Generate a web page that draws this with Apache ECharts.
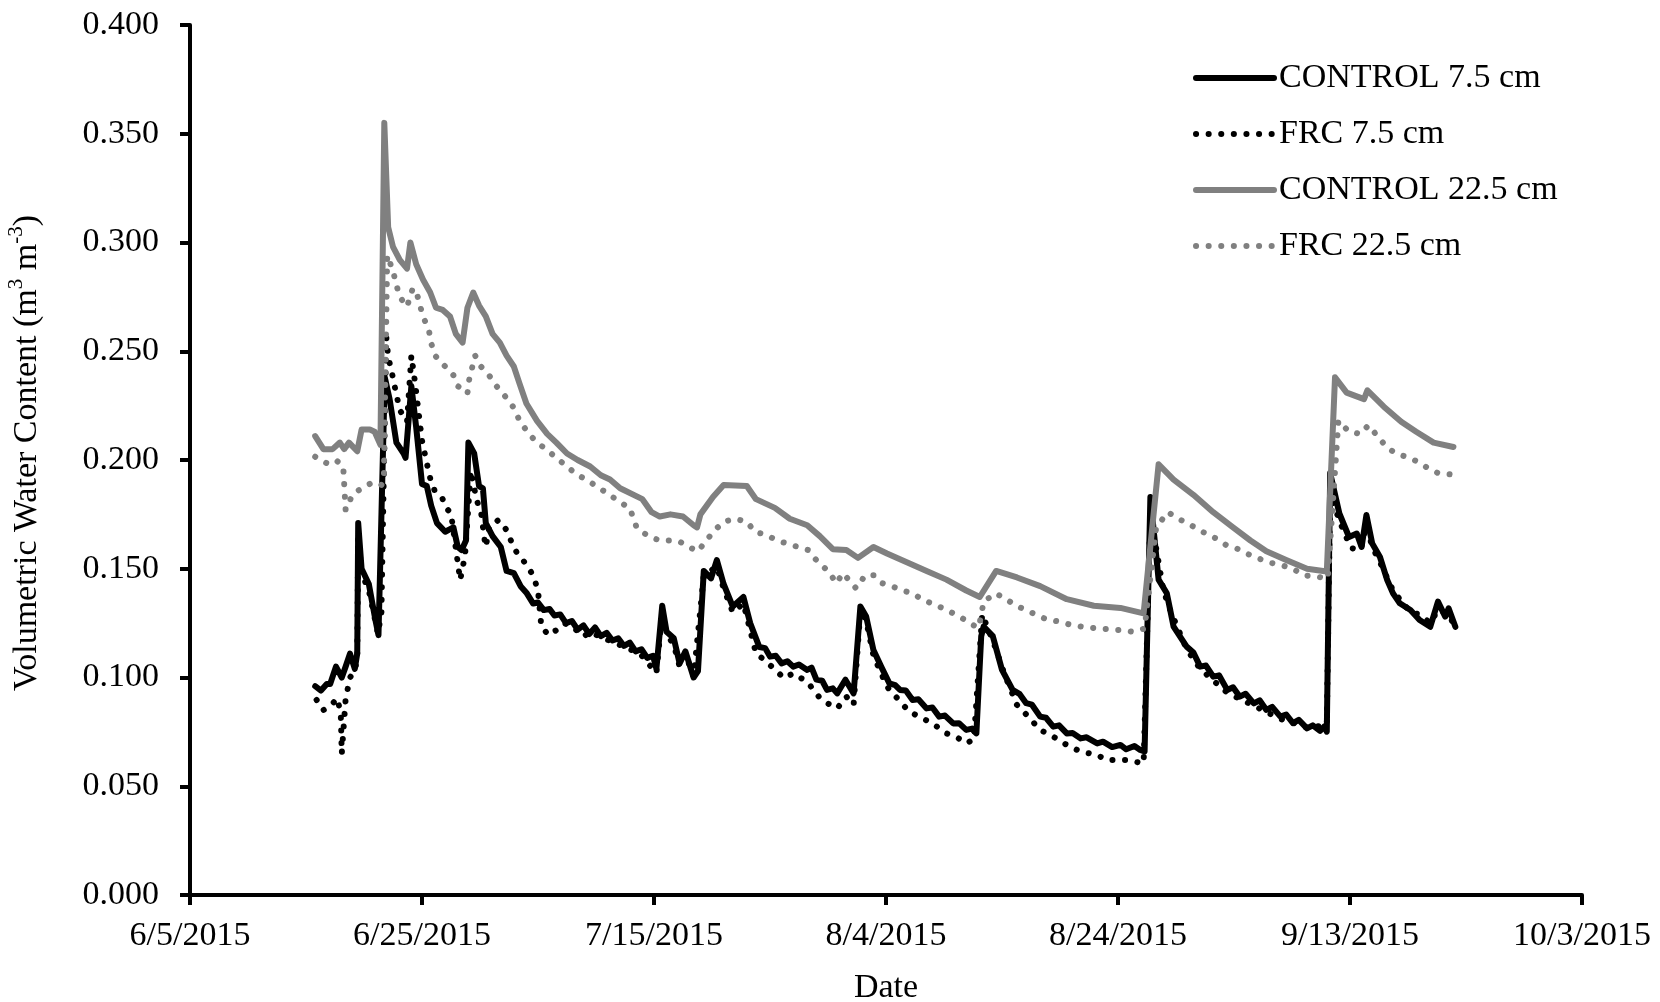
<!DOCTYPE html>
<html>
<head>
<meta charset="utf-8">
<title>Volumetric Water Content</title>
<script src="https://cdn.jsdelivr.net/npm/echarts@6/dist/echarts.min.js"></script>
<style>
  html, body { margin: 0; padding: 0; background: #fff; }
  #chart { width: 1660px; height: 1002px; }
</style>
</head>
<body>
<div id="chart"></div>
<script>
// Soil volumetric water content readings, 2015 season: ['M/D HH', m3 m-3]
const control75 = [
  ['6/15 19',0.096],['6/16 07',0.094],['6/16 19',0.097],['6/17 02',0.097],['6/17 14',0.105],['6/18 02',0.100],
  ['6/18 10',0.105],['6/18 19',0.111],['6/19 05',0.104],['6/19 10',0.111],['6/19 12',0.171],['6/19 19',0.150],
  ['6/20 10',0.143],['6/21 00',0.126],['6/21 06',0.1195],['6/21 10',0.120],['6/21 19',0.238],['6/22 05',0.228],
  ['6/22 19',0.208],['6/23 10',0.203],['6/23 14',0.201],['6/24 02',0.234],['6/24 12',0.215],['6/25 00',0.189],
  ['6/25 10',0.188],['6/25 19',0.179],['6/26 07',0.171],['6/27 00',0.167],['6/27 17',0.169],['6/28 02',0.160],
  ['6/28 10',0.1586],['6/28 19',0.163],['6/29 00',0.208],['6/29 12',0.203],['6/29 22',0.188],['6/30 06',0.187],
  ['6/30 12',0.171],['7/1 02',0.165],['7/1 19',0.160],['7/2 07',0.149],['7/2 22',0.148],['7/3 12',0.142],
  ['7/4 00',0.139],['7/4 14',0.134],['7/5 00',0.1345],['7/5 12',0.131],['7/6 00',0.1315],['7/6 10',0.1285],
  ['7/6 22',0.129],['7/7 10',0.125],['7/7 22',0.126],['7/8 10',0.122],['7/8 22',0.124],['7/9 10',0.120],
  ['7/9 22',0.123],['7/10 10',0.119],['7/10 22',0.1205],['7/11 10',0.117],['7/11 22',0.118],['7/12 10',0.1145],
  ['7/12 22',0.116],['7/13 10',0.112],['7/13 22',0.113],['7/14 10',0.109],['7/14 22',0.110],['7/15 05',0.104],
  ['7/15 17',0.133],['7/16 02',0.121],['7/16 17',0.118],['7/17 05',0.1065],['7/17 17',0.112],['7/18 10',0.100],
  ['7/18 19',0.103],['7/19 07',0.149],['7/19 22',0.1456],['7/20 10',0.154],['7/21 00',0.143],['7/21 19',0.1326],
  ['7/22 17',0.137],['7/23 07',0.125],['7/24 02',0.114],['7/24 14',0.1135],['7/25 00',0.1096],['7/25 12',0.110],
  ['7/26 00',0.1065],['7/26 12',0.1075],['7/27 00',0.105],['7/27 12',0.106],['7/28 05',0.1035],['7/28 14',0.1045],
  ['7/29 00',0.099],['7/29 12',0.0985],['7/29 22',0.0943],['7/30 10',0.095],['7/30 19',0.0927],['7/31 12',0.099],
  ['8/1 05',0.0927],['8/1 19',0.1326],['8/2 07',0.128],['8/2 22',0.1126],['8/3 14',0.105],['8/4 07',0.0973],
  ['8/4 19',0.0965],['8/5 05',0.0943],['8/5 17',0.094],['8/6 07',0.0897],['8/6 19',0.090],['8/7 12',0.0858],
  ['8/8 00',0.0862],['8/8 14',0.082],['8/9 02',0.0825],['8/9 19',0.0789],['8/10 07',0.079],['8/10 22',0.0759],
  ['8/11 10',0.0765],['8/11 19',0.0743],['8/12 05',0.119],['8/12 10',0.1234],['8/13 05',0.119],['8/14 00',0.1035],
  ['8/14 22',0.0943],['8/15 12',0.0925],['8/16 02',0.0882],['8/16 14',0.0875],['8/17 07',0.082],['8/17 19',0.0815],
  ['8/18 10',0.0774],['8/18 22',0.078],['8/19 14',0.0743],['8/20 02',0.0745],['8/20 19',0.072],['8/21 07',0.0725],
  ['8/22 05',0.0697],['8/22 17',0.0705],['8/23 12',0.068],['8/24 05',0.069],['8/24 17',0.067],['8/25 10',0.0685],
  ['8/25 22',0.0667],['8/26 07',0.066],['8/26 19',0.183],['8/27 12',0.145],['8/28 05',0.1387],['8/28 19',0.1234],
  ['8/29 22',0.1142],['8/30 12',0.1115],['8/31 02',0.105],['8/31 14',0.1055],['9/1 05',0.1004],['9/1 17',0.101],
  ['9/2 10',0.0943],['9/2 22',0.0955],['9/3 12',0.0912],['9/4 00',0.0925],['9/4 17',0.0881],['9/5 05',0.0895],
  ['9/5 19',0.0851],['9/6 07',0.0865],['9/7 00',0.082],['9/7 12',0.083],['9/8 02',0.079],['9/8 14',0.0805],
  ['9/9 07',0.0766],['9/9 19',0.078],['9/10 10',0.0755],['9/10 19',0.0775],['9/11 00',0.0751],['9/11 07',0.194],
  ['9/12 02',0.1754],['9/12 22',0.1646],['9/13 14',0.1662],['9/14 00',0.160],['9/14 10',0.1747],['9/14 22',0.1616],
  ['9/15 14',0.1554],['9/16 05',0.1448],['9/16 17',0.1387],['9/17 07',0.1341],['9/18 05',0.131],['9/19 00',0.1264],
  ['9/19 22',0.1233],['9/20 14',0.1349],['9/21 05',0.128],['9/21 12',0.1318],['9/22 02',0.1233]
];

const frc75 = [
  ['6/15 22',0.0897],['6/16 12',0.085],['6/17 07',0.088],['6/17 17',0.0904],['6/18 00',0.083],['6/18 02',0.065],
  ['6/18 10',0.090],['6/18 19',0.100],['6/19 05',0.103],['6/19 10',0.109],['6/19 12',0.165],['6/19 19',0.148],
  ['6/20 10',0.140],['6/21 05',0.120],['6/21 12',0.130],['6/21 22',0.2567],['6/22 02',0.2475],['6/22 10',0.2398],
  ['6/22 17',0.2322],['6/23 02',0.223],['6/23 17',0.2176],['6/24 02',0.248],['6/24 10',0.235],['6/24 17',0.222],
  ['6/25 00',0.209],['6/25 10',0.1985],['6/25 17',0.1916],['6/26 02',0.186],['6/26 17',0.183],['6/27 02',0.178],
  ['6/27 12',0.1755],['6/28 00',0.156],['6/28 07',0.1448],['6/28 17',0.156],['6/29 05',0.195],['6/29 17',0.1816],
  ['6/30 02',0.1762],['6/30 10',0.1624],['6/30 12',0.160],['6/30 19',0.169],['7/1 14',0.1724],['7/2 07',0.1678],
  ['7/2 17',0.1624],['7/3 05',0.157],['7/3 17',0.154],['7/4 14',0.147],['7/5 00',0.140],['7/5 05',0.128],
  ['7/5 07',0.1233],['7/5 22',0.1195],['7/6 14',0.1218],['7/7 07',0.1249],['7/8 00',0.1233],['7/8 22',0.1188],
  ['7/9 12',0.121],['7/10 07',0.1189],['7/12 02',0.1149],['7/13 19',0.111],['7/15 05',0.102],['7/15 17',0.130],
  ['7/16 02',0.120],['7/16 17',0.115],['7/17 05',0.105],['7/18 00',0.1065],['7/18 10',0.1004],['7/19 07',0.147],
  ['7/20 10',0.151],['7/21 00',0.141],['7/21 19',0.130],['7/22 17',0.134],['7/23 19',0.1111],['7/24 17',0.1072],
  ['7/26 05',0.0997],['7/27 00',0.1019],['7/28 05',0.098],['7/29 05',0.0912],['7/29 22',0.0882],['7/30 19',0.0858],
  ['7/31 14',0.0912],['8/1 05',0.0874],['8/1 19',0.131],['8/2 07',0.126],['8/2 22',0.110],['8/4 02',0.0958],
  ['8/6 00',0.0843],['8/8 00',0.0789],['8/9 05',0.0743],['8/10 00',0.0728],['8/11 00',0.0697],['8/11 14',0.072],
  ['8/12 07',0.129],['8/13 05',0.117],['8/14 07',0.1004],['8/15 07',0.0874],['8/16 00',0.0835],['8/17 07',0.0759],
  ['8/18 10',0.0728],['8/19 14',0.069],['8/20 19',0.0659],['8/22 05',0.0644],['8/23 00',0.0621],['8/24 17',0.0621],
  ['8/26 05',0.0605],['8/26 19',0.175],['8/27 22',0.140],['8/28 12',0.131],['8/29 22',0.113],['8/31 02',0.104],
  ['9/2 10',0.093],['9/4 17',0.087],['9/7 00',0.081],['9/9 07',0.077],['9/11 00',0.078],['9/11 07',0.185],
  ['9/12 02',0.172],['9/13 02',0.1595],['9/13 22',0.1586],['9/14 10',0.170],['9/14 22',0.160],['9/15 14',0.153],
  ['9/16 17',0.140],['9/17 07',0.136],['9/18 05',0.130],['9/19 00',0.129],['9/19 22',0.125],['9/20 14',0.131],
  ['9/21 12',0.129],['9/22 02',0.123]
];

const control225 = [
  ['6/15 19',0.211],['6/16 12',0.205],['6/17 07',0.205],['6/17 22',0.208],['6/18 07',0.205],['6/18 17',0.208],
  ['6/19 10',0.204],['6/19 19',0.214],['6/20 12',0.214],['6/20 22',0.213],['6/21 10',0.207],['6/21 18',0.355],
  ['6/22 02',0.307],['6/22 12',0.298],['6/23 02',0.292],['6/23 17',0.288],['6/24 00',0.300],['6/24 12',0.290],
  ['6/25 02',0.283],['6/25 17',0.277],['6/26 05',0.270],['6/26 19',0.269],['6/27 10',0.266],['6/27 22',0.258],
  ['6/28 12',0.254],['6/28 22',0.270],['6/29 10',0.277],['6/29 22',0.271],['6/30 12',0.266],['7/1 02',0.258],
  ['7/1 17',0.254],['7/2 07',0.248],['7/2 22',0.243],['7/3 10',0.235],['7/4 00',0.226],['7/4 22',0.218],
  ['7/5 19',0.212],['7/6 14',0.208],['7/7 12',0.203],['7/8 10',0.200],['7/9 12',0.197],['7/10 10',0.193],
  ['7/11 05',0.191],['7/12 02',0.187],['7/14 00',0.182],['7/14 19',0.176],['7/15 12',0.174],['7/16 10',0.175],
  ['7/17 12',0.174],['7/18 10',0.170],['7/18 17',0.169],['7/19 00',0.175],['7/20 02',0.183],['7/21 00',0.1885],
  ['7/23 00',0.188],['7/23 19',0.182],['7/25 10',0.178],['7/26 17',0.173],['7/28 05',0.170],['7/29 07',0.165],
  ['7/30 10',0.159],['7/31 14',0.1586],['8/1 14',0.155],['8/2 22',0.160],['8/4 02',0.157],['8/5 19',0.153],
  ['8/7 12',0.149],['8/9 05',0.145],['8/10 22',0.140],['8/12 02',0.137],['8/13 12',0.149],['8/15 07',0.146],
  ['8/17 07',0.142],['8/19 14',0.136],['8/21 22',0.133],['8/24 05',0.132],['8/26 05',0.1295],['8/27 12',0.198],
  ['8/28 19',0.191],['8/30 12',0.184],['9/1 05',0.176],['9/2 22',0.169],['9/4 10',0.163],['9/5 19',0.158],
  ['9/7 12',0.154],['9/9 07',0.150],['9/11 00',0.1487],['9/11 17',0.238],['9/12 17',0.231],['9/14 05',0.228],
  ['9/14 12',0.232],['9/15 22',0.2245],['9/17 10',0.2176],['9/18 17',0.213],['9/20 05',0.208],['9/21 22',0.206]
];

const frc225 = [
  ['6/15 19',0.2015],['6/16 19',0.1985],['6/17 14',0.200],['6/18 05',0.197],['6/18 10',0.177],['6/19 00',0.184],
  ['6/19 19',0.187],['6/20 12',0.189],['6/21 10',0.188],['6/21 17',0.190],['6/22 00',0.294],['6/22 12',0.287],
  ['6/22 19',0.2805],['6/23 02',0.275],['6/23 17',0.2705],['6/24 05',0.279],['6/24 14',0.276],['6/25 02',0.266],
  ['6/25 14',0.260],['6/25 19',0.2536],['6/26 05',0.2475],['6/27 00',0.243],['6/27 17',0.239],['6/28 02',0.234],
  ['6/28 22',0.2306],['6/29 02',0.2375],['6/29 14',0.248],['6/30 02',0.243],['6/30 22',0.238],['7/1 10',0.234],
  ['7/2 05',0.229],['7/2 22',0.224],['7/3 10',0.218],['7/4 05',0.212],['7/4 22',0.208],['7/5 19',0.2046],
  ['7/6 14',0.201],['7/7 12',0.197],['7/8 10',0.193],['7/9 05',0.191],['7/10 02',0.1877],['7/11 00',0.1847],
  ['7/11 19',0.1816],['7/12 22',0.1778],['7/13 12',0.169],['7/14 12',0.165],['7/15 12',0.163],['7/16 10',0.163],
  ['7/17 05',0.1625],['7/18 00',0.160],['7/18 19',0.158],['7/19 12',0.163],['7/20 07',0.168],['7/21 00',0.1716],
  ['7/22 00',0.173],['7/23 00',0.1716],['7/23 17',0.167],['7/24 17',0.1655],['7/25 14',0.163],['7/26 10',0.1617],
  ['7/27 10',0.160],['7/28 07',0.1586],['7/28 17',0.1556],['7/29 10',0.1517],['7/30 02',0.1487],['7/30 17',0.1433],
  ['7/31 07',0.148],['8/1 10',0.141],['8/2 05',0.147],['8/3 00',0.147],['8/3 17',0.1433],['8/4 14',0.1418],
  ['8/5 10',0.140],['8/6 07',0.1387],['8/7 05',0.1356],['8/8 00',0.134],['8/8 22',0.1318],['8/9 19',0.1295],
  ['8/10 14',0.1272],['8/11 12',0.1241],['8/12 00',0.123],['8/12 10',0.1348],['8/13 10',0.1387],['8/14 07',0.1364],
  ['8/15 02',0.1333],['8/16 02',0.131],['8/17 00',0.1287],['8/18 00',0.1264],['8/19 00',0.1257],['8/20 00',0.1241],
  ['8/21 00',0.1233],['8/22 05',0.1226],['8/24 05',0.1218],['8/25 07',0.121],['8/26 07',0.1225],['8/27 07',0.169],
  ['8/28 07',0.176],['8/29 07',0.1728],['8/30 07',0.170],['8/31 07',0.167],['9/1 10',0.164],['9/2 07',0.161],
  ['9/3 05',0.1594],['9/4 02',0.157],['9/5 02',0.1548],['9/6 02',0.1528],['9/7 02',0.1517],['9/8 02',0.150],
  ['9/9 00',0.147],['9/10 02',0.1464],['9/11 02',0.1456],['9/12 00',0.218],['9/12 22',0.213],['9/13 22',0.212],
  ['9/14 14',0.216],['9/15 07',0.2115],['9/16 02',0.2064],['9/16 22',0.203],['9/17 22',0.2014],['9/18 22',0.199],
  ['9/19 19',0.196],['9/20 14',0.194],['9/21 14',0.1934]
];

const seriesNames = ['CONTROL 7.5 cm', 'FRC 7.5 cm', 'CONTROL 22.5 cm', 'FRC 22.5 cm'];
const yTicks = [0, 0.05, 0.10, 0.15, 0.20, 0.25, 0.30, 0.35, 0.40];
const xTickDates = ['6/5/2015', '6/25/2015', '7/15/2015', '8/4/2015', '8/24/2015', '9/13/2015', '10/3/2015'];

// x positions are days elapsed since the first tick date
const DAY_MS = 86400000;
const START = Date.UTC(2015, 5, 5);
function toDay(s) {
  const parts = s.split(' ');
  const md = parts[0].split('/').map(Number);
  const h = parts.length > 1 ? Number(parts[1]) : 0;
  return (Date.UTC(2015, md[0] - 1, md[1], h) - START) / DAY_MS;
}
function fromDateLabel(s) {
  const p = s.split('/').map(Number);
  return (Date.UTC(p[2], p[0] - 1, p[1]) - START) / DAY_MS;
}
function dayLabel(v) {
  const d = new Date(START + Math.round(v) * DAY_MS);
  return (d.getUTCMonth() + 1) + '/' + d.getUTCDate() + '/' + d.getUTCFullYear();
}
const toXY = arr => arr.map(p => [toDay(p[0]), p[1]]);

const xMin = fromDateLabel(xTickDates[0]);
const xMax = fromDateLabel(xTickDates[xTickDates.length - 1]);
const xStep = fromDateLabel(xTickDates[1]) - xMin;

const FONT = "'Liberation Serif', 'Times New Roman', serif";
const FS = 34;
const BLACK = '#000000';
const GREY = '#808080';
const DOT = [0.1, 12.5];

const chart = echarts.init(document.getElementById('chart'), null, { renderer: 'canvas' });

chart.setOption({
  backgroundColor: '#ffffff',
  animation: false,
  textStyle: { fontFamily: FONT, color: '#000' },
  grid: { left: 190, right: 78, top: 25, bottom: 107, containLabel: false, outerBoundsMode: 'none' },
  legend: {
    orient: 'vertical',
    left: 1188,
    top: 54,
    itemWidth: 78,
    itemHeight: 12,
    itemGap: 18,
    data: seriesNames,
    itemStyle: { opacity: 0 },
    lineStyle: { width: 6, cap: 'round' },
    textStyle: { fontFamily: FONT, fontSize: FS, color: '#000', lineHeight: 38 }
  },
  xAxis: {
    type: 'value',
    min: xMin,
    max: xMax,
    interval: xStep,
    name: 'Date',
    nameLocation: 'middle',
    nameGap: 76,
    nameTextStyle: { fontFamily: FONT, fontSize: FS, color: '#000' },
    splitLine: { show: false },
    axisLine: { show: true, onZero: false, lineStyle: { color: BLACK, width: 4 } },
    axisTick: { show: true, inside: false, length: 10, lineStyle: { color: BLACK, width: 4 } },
    axisLabel: { margin: 24, fontFamily: FONT, fontSize: FS, color: '#000', formatter: v => dayLabel(v) }
  },
  yAxis: {
    type: 'value',
    min: yTicks[0],
    max: yTicks[yTicks.length - 1],
    interval: yTicks[1] - yTicks[0],
    name: '{a|Volumetric Water Content (m}{s|3}{a| m}{s|-3}{a|)}',
    nameLocation: 'middle',
    nameGap: 146,
    nameRotate: 90,
    nameTextStyle: {
      fontFamily: FONT,
      color: '#000',
      padding: [0, 0, 0, 14],
      rich: {
        a: { fontFamily: FONT, fontSize: FS, color: '#000', lineHeight: 38, verticalAlign: 'bottom' },
        s: { fontFamily: FONT, fontSize: 21, color: '#000', lineHeight: 38, verticalAlign: 'top', padding: [0, 0, 15, 0] }
      }
    },
    splitLine: { show: false },
    axisLine: { show: true, lineStyle: { color: BLACK, width: 4 } },
    axisTick: { show: true, inside: false, length: 10, lineStyle: { color: BLACK, width: 4 } },
    axisLabel: { margin: 31, fontFamily: FONT, fontSize: FS, color: '#000', formatter: v => v.toFixed(3) }
  },
  series: [
    {
      name: seriesNames[0], type: 'line', data: toXY(control75), symbol: 'none', showSymbol: false,
      lineStyle: { color: BLACK, width: 6, join: 'round', cap: 'round' }, itemStyle: { color: BLACK }, z: 2
    },
    {
      name: seriesNames[1], type: 'line', data: toXY(frc75), symbol: 'none', showSymbol: false,
      lineStyle: { color: BLACK, width: 6, type: DOT, cap: 'round', join: 'round' }, itemStyle: { color: BLACK }, z: 3
    },
    {
      name: seriesNames[2], type: 'line', data: toXY(control225), symbol: 'none', showSymbol: false,
      lineStyle: { color: GREY, width: 6, join: 'round', cap: 'round' }, itemStyle: { color: GREY }, z: 4
    },
    {
      name: seriesNames[3], type: 'line', data: toXY(frc225), symbol: 'none', showSymbol: false,
      lineStyle: { color: GREY, width: 6, type: DOT, cap: 'round', join: 'round' }, itemStyle: { color: GREY }, z: 5
    }
  ]
});
</script>
</body>
</html>
